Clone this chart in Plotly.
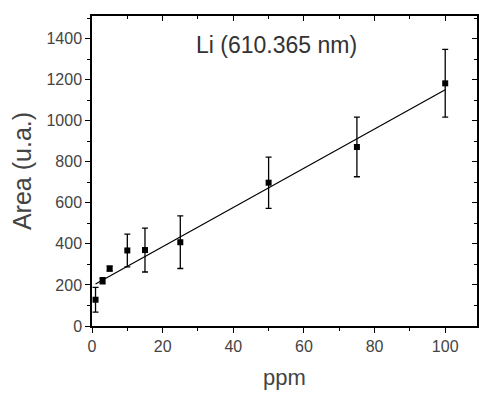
import plotly.graph_objects as go

# Data
ppm = [1, 3, 5, 10, 15, 25, 50, 75, 100]
area = [128, 220, 280, 368, 370, 408, 698, 872, 1182]
area_err = [60, 15, 12, 80, 107, 128, 125, 145, 165]

fit_x = [1, 100]
fit_y = [205, 1151]

x_range = [0, 109]
y_range = [0, 1510]
title_text = "Li (610.365 nm)"
x_title = "ppm"
y_title = "Area (u.a.)"

FONT = "Liberation Sans, Arial, sans-serif"
GREY = "#444"

fig = go.Figure()

fig.add_trace(go.Scatter(
    x=fit_x, y=fit_y, mode="lines",
    line=dict(color="black", width=1.2),
    showlegend=False, hoverinfo="skip",
))

fig.add_trace(go.Scatter(
    x=ppm, y=area, mode="markers",
    marker=dict(symbol="square", size=6, color="black"),
    error_y=dict(type="data", array=area_err, visible=True,
                 color="black", thickness=1.3, width=3),
    showlegend=False,
))

# invisible trace for the mirror axes
fig.add_trace(go.Scatter(x=x_range, y=y_range, mode="markers",
                         marker=dict(opacity=0), xaxis="x2", yaxis="y2",
                         showlegend=False, hoverinfo="skip"))

axis_common = dict(showgrid=False, zeroline=False, showline=True,
                   linecolor="black", linewidth=1.5, tickcolor="black",
                   tickwidth=1.2)

fig.update_layout(
    width=479, height=394,
    margin=dict(l=92, r=2, t=16, b=68),
    paper_bgcolor="white", plot_bgcolor="white",
    font=dict(family=FONT, color=GREY),
    xaxis=dict(range=x_range, ticks="outside", ticklen=5, dtick=20, tick0=0,
               tickfont=dict(size=16, color=GREY),
               minor=dict(ticks="outside", ticklen=3, dtick=10, tickcolor="black"),
               title=dict(text=x_title, font=dict(size=22, color=GREY), standoff=16),
               **axis_common),
    yaxis=dict(range=y_range, ticks="outside", ticklen=5, dtick=200, tick0=0,
               tickfont=dict(size=16, color=GREY),
               minor=dict(ticks="outside", ticklen=3, dtick=100, tickcolor="black"),
               title=dict(text=y_title, font=dict(size=25, color=GREY), standoff=8),
               **axis_common),
    xaxis2=dict(range=x_range, overlaying="x", side="top", anchor="y",
                ticks="inside", ticklen=5, dtick=20, tick0=0, showticklabels=False,
                minor=dict(ticks="inside", ticklen=3, dtick=10, tickcolor="black"),
                **axis_common),
    yaxis2=dict(range=y_range, overlaying="y", side="right", anchor="x",
                ticks="inside", ticklen=5, dtick=200, tick0=0, showticklabels=False,
                minor=dict(ticks="inside", ticklen=3, dtick=100, tickcolor="black"),
                **axis_common),
    annotations=[dict(text=title_text, x=0.48, y=0.905, xref="paper", yref="paper",
                      xanchor="center", yanchor="middle",
                      showarrow=False, font=dict(size=23, color="#333", family=FONT))],
)

fig.write_html("out.html")
